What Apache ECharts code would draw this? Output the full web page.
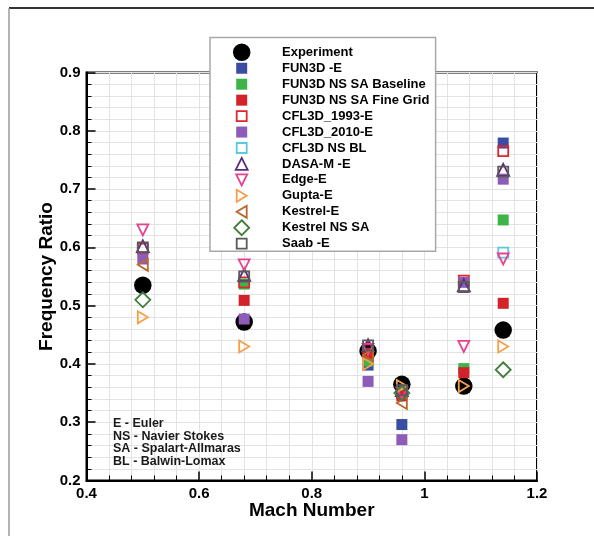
<!DOCTYPE html>
<html>
<head>
<meta charset="utf-8">
<script src="https://cdn.jsdelivr.net/npm/echarts@6/dist/echarts.min.js"></script>
<style>
  html, body { margin: 0; padding: 0; background: #fff; }
  #chart { width: 594px; height: 536px; }
</style>
</head>
<body>
<div id="chart"></div>
<script>
// Mach numbers at which the frequency ratio was measured / computed
const machNumbers = [0.5, 0.68, 0.9, 0.96, 1.07, 1.14];

// Frequency ratio per data set (null = no result at that Mach number)
const experiment     = [0.535, 0.472, 0.422, 0.365, 0.362, 0.458];
const fun3dEuler     = [null,  null,  0.398, 0.296, null,  0.779];
const fun3dBaseline  = [null,  0.537, 0.405, 0.350, 0.392, 0.647];
const fun3dFineGrid  = [null,  0.509, 0.418, 0.345, 0.385, 0.504];
const cfl3d1993      = [0.598, 0.540, 0.425, 0.350, 0.543, 0.765];
const cfl3d2010      = [0.580, 0.477, 0.370, 0.270, 0.540, 0.717];
const cfl3dNsBL      = [null,  null,  null,  null,  null,  0.591];
const dasaEuler      = [0.602, 0.553, 0.432, 0.355, 0.535, 0.733];
const edgeEuler      = [0.630, 0.570, 0.425, 0.350, 0.430, 0.580];
const guptaEuler     = [0.480, 0.430, 0.400, 0.362, 0.362, 0.430];
const kestrelEuler   = [0.570, null,  0.415, 0.333, null,  null ];
const kestrelNsSA    = [0.510, null,  null,  0.350, null,  0.390];
const saabEuler      = [0.600, 0.550, 0.432, 0.355, 0.532, 0.730];

// Axis ranges and tick steps
const xRange = [0.4, 1.2];
const xStep = 0.2;
const yRange = [0.2, 0.9];
const yStep = 0.1;

const abbreviations = [
  'E - Euler',
  'NS - Navier Stokes',
  'SA - Spalart-Allmaras',
  'BL - Balwin-Lomax'
];

const FONT = '"Liberation Sans", Arial, Helvetica, sans-serif';
const TRI_DOWN  = 'path://M0,0 L12,0 L6,12 Z';
const TRI_RIGHT = 'path://M0,0 L10,6 L0,12 Z';
const TRI_LEFT  = 'path://M10,0 L0,6 L10,12 Z';

// Marker appearance for each data set (iconW: drawn width when narrower than the symbol box)
const dataSets = [
  { name: 'Experiment',               values: experiment,    symbol: 'circle',   size: 17.5, color: '#000000', hollow: false },
  { name: 'FUN3D -E',                 values: fun3dEuler,    symbol: 'rect',     size: 11,   color: '#3b4da3', hollow: false },
  { name: 'FUN3D NS SA Baseline',     values: fun3dBaseline, symbol: 'rect',     size: 11,   color: '#3cb44a', hollow: false },
  { name: 'FUN3D NS SA Fine Grid',    values: fun3dFineGrid, symbol: 'rect',     size: 11,   color: '#d2232a', hollow: false },
  { name: 'CFL3D_1993-E',             values: cfl3d1993,     symbol: 'rect',     size: 10,   color: '#e0262b', hollow: true  },
  { name: 'CFL3D_2010-E',             values: cfl3d2010,     symbol: 'rect',     size: 11,   color: '#8e5bb8', hollow: false },
  { name: 'CFL3D NS BL',              values: cfl3dNsBL,     symbol: 'rect',     size: 10,   color: '#5ac8de', hollow: true  },
  { name: 'DASA-M -E',                values: dasaEuler,     symbol: 'triangle', size: 12,   color: '#5a2d7a', hollow: true  },
  { name: 'Edge-E',                   values: edgeEuler,     symbol: TRI_DOWN,   size: 11,   color: '#e8428f', hollow: true  },
  { name: 'Gupta-E',                  values: guptaEuler,    symbol: TRI_RIGHT,  size: 12,   color: '#f7a04b', hollow: true, iconW: 10 },
  { name: 'Kestrel-E',                values: kestrelEuler,  symbol: TRI_LEFT,   size: 12,   color: '#b8682e', hollow: true, iconW: 10 },
  { name: 'Kestrel NS SA',            values: kestrelNsSA,   symbol: 'diamond',  size: 15,   color: '#3e7f3a', hollow: true  },
  { name: 'Saab -E',                  values: saabEuler,     symbol: 'rect',     size: 10,   color: '#5a5a5a', hollow: true  }
];

const STROKE = 1.8;

function markerStyle(d) {
  return d.hollow
    ? { color: 'rgba(255,255,255,0)', borderColor: d.color, borderWidth: STROKE, opacity: 1 }
    : { color: d.color, borderWidth: 0, opacity: 1 };
}

const series = dataSets.map(d => ({
  name: d.name,
  type: 'scatter',
  symbol: d.symbol,
  symbolSize: d.size,
  symbolKeepAspect: true,
  itemStyle: markerStyle(d),
  emphasis: { disabled: true },
  data: machNumbers
    .map((m, i) => [m, d.values[i]])
    .filter(p => p[1] !== null)
}));

// One legend block per data set so each row keeps its own marker size
const legendTop0 = 52.3, legendStep = 15.95, legendIconX = 241.7, legendTextX = 282;
const legends = dataSets.map((d, i) => {
  const cy = legendTop0 + i * legendStep;
  const sw = d.hollow ? STROKE : 0;
  const groupTop = Math.min(-sw / 2, d.size / 2 - 6.5);
  const iconLeft = legendIconX - d.size / 2;
  const inset = d.iconW ? (d.size - d.iconW) / 2 : 0;
  return {
    show: true,
    data: [d.name],
    left: iconLeft + inset - sw / 2,
    top: cy - d.size / 2 + groupTop,
    padding: 0,
    itemGap: 0,
    itemWidth: d.size,
    itemHeight: d.size,
    selectedMode: false,
    z: 10,
    itemStyle: markerStyle(d),
    textStyle: {
      fontSize: 13, fontWeight: 'bold', color: '#000', fontFamily: FONT,
      padding: [0, 0, 0, legendTextX - (iconLeft + d.size + 5)]
    }
  };
});

const axisLabelStyle = {
  fontSize: 15, fontWeight: 'bold', color: '#000', fontFamily: FONT,
  formatter: v => String(Number(v.toFixed(2)))
};
const gridLineStyle = { color: '#e3e3e3', width: 1 };

const chart = echarts.init(document.getElementById('chart'), null, { renderer: 'canvas' });
chart.setOption({
  animation: false,
  backgroundColor: '#ffffff',
  grid: {
    left: 86.5, right: 57, top: 72.5, bottom: 55.5,
    containLabel: false, outerBoundsMode: 'none',
    show: true, borderColor: '#000', borderWidth: 2, backgroundColor: 'transparent'
  },
  xAxis: {
    type: 'value',
    min: xRange[0], max: xRange[1], interval: xStep,
    name: 'Mach Number', nameLocation: 'middle', nameGap: 20.5, nameMoveOverlap: false,
    nameTextStyle: { fontSize: 19, fontWeight: 'bold', color: '#000', fontFamily: FONT },
    axisLine: { show: true, onZero: false, lineStyle: { color: '#000', width: 2 } },
    axisTick: { show: true, inside: true, length: 9, lineStyle: { color: '#000', width: 1.5 } },
    minorTick: { show: true, splitNumber: 5, length: 5, lineStyle: { color: '#000', width: 1 } },
    splitLine: { show: true, lineStyle: gridLineStyle },
    minorSplitLine: { show: true, lineStyle: gridLineStyle },
    axisLabel: Object.assign({ margin: 6 }, axisLabelStyle)
  },
  yAxis: {
    type: 'value',
    min: yRange[0], max: yRange[1], interval: yStep,
    name: 'Frequency Ratio', nameLocation: 'middle', nameGap: 30, nameMoveOverlap: false,
    nameTextStyle: { fontSize: 19, fontWeight: 'bold', color: '#000', fontFamily: FONT },
    axisLine: { show: true, onZero: false, lineStyle: { color: '#000', width: 2 } },
    axisTick: { show: true, inside: true, length: 9, lineStyle: { color: '#000', width: 1.5 } },
    minorTick: { show: true, splitNumber: 5, length: 5, lineStyle: { color: '#000', width: 1 } },
    splitLine: { show: true, lineStyle: gridLineStyle },
    minorSplitLine: { show: true, lineStyle: gridLineStyle },
    axisLabel: Object.assign({ margin: 6 }, axisLabelStyle)
  },
  legend: legends,
  graphic: [
    { type: 'line', z: 1, shape: { x1: 9, y1: 8, x2: 594, y2: 8 }, style: { stroke: '#333', lineWidth: 2 } },
    { type: 'line', z: 1, shape: { x1: 9, y1: 8, x2: 9, y2: 536 }, style: { stroke: '#9a9a9a', lineWidth: 1.5 } },
    { type: 'rect', z: 5, shape: { x: 210, y: 37.6, width: 225.6, height: 213.7 },
      style: { fill: '#fff', stroke: '#a8a8a8', lineWidth: 1.5 } },
    { type: 'text', z: 5, x: 113, y: 417.5,
      style: { text: abbreviations.join('\n'), fontSize: 12.5, fontWeight: 'bold', fontFamily: FONT,
               lineHeight: 12.6, fill: '#1a1a1a', verticalAlign: 'top' } }
  ],
  series: series
});
</script>
</body>
</html>
